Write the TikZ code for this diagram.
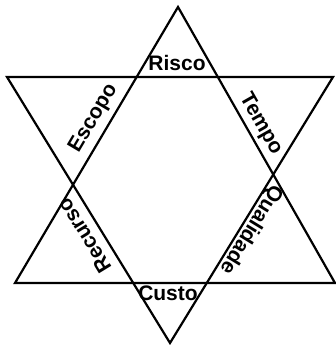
\documentclass[tikz,border=0pt]{standalone}
\usepackage{fontspec}
\setmainfont{Liberation Sans}
\begin{document}
\begin{tikzpicture}[x=1pt,y=1pt,
  edge/.style={draw=black,line width=2.2pt},
  lbl/.style={font=\fontsize{21}{25}\selectfont\bfseries,inner sep=0pt,anchor=base}]
\fill[white] (0,0) rectangle (336,345);
\useasboundingbox (0,0) rectangle (336,345);
% upward triangle
\coordinate (A) at (178,338);
\coordinate (B) at (15,62);
\coordinate (C) at (335,62);
% downward triangle
\coordinate (D) at (7,268);
\coordinate (E) at (333,268);
\coordinate (F) at (170,2);
\draw[edge] (A) -- (B) -- (C) -- cycle;
\draw[edge] (D) -- (E) -- (F) -- cycle;
% labels
\node[lbl] (risco) at (177,274) {Risco};
\node[lbl] (custo) at (168,44) {Custo};
\node[lbl,rotate=59.4] (escopo) at (98.0,224.3) {Escopo};
\node[lbl,rotate=-60.4] (tempo) at (256.2,218.5) {Tempo};
\node[lbl,rotate=121.5] (recurso) at (90.2,113.0) {Recurso};
\node[lbl,rotate=238.5] (qualidade) at (246.2,118.5) {Qualidade};
\end{tikzpicture}
\end{document}
